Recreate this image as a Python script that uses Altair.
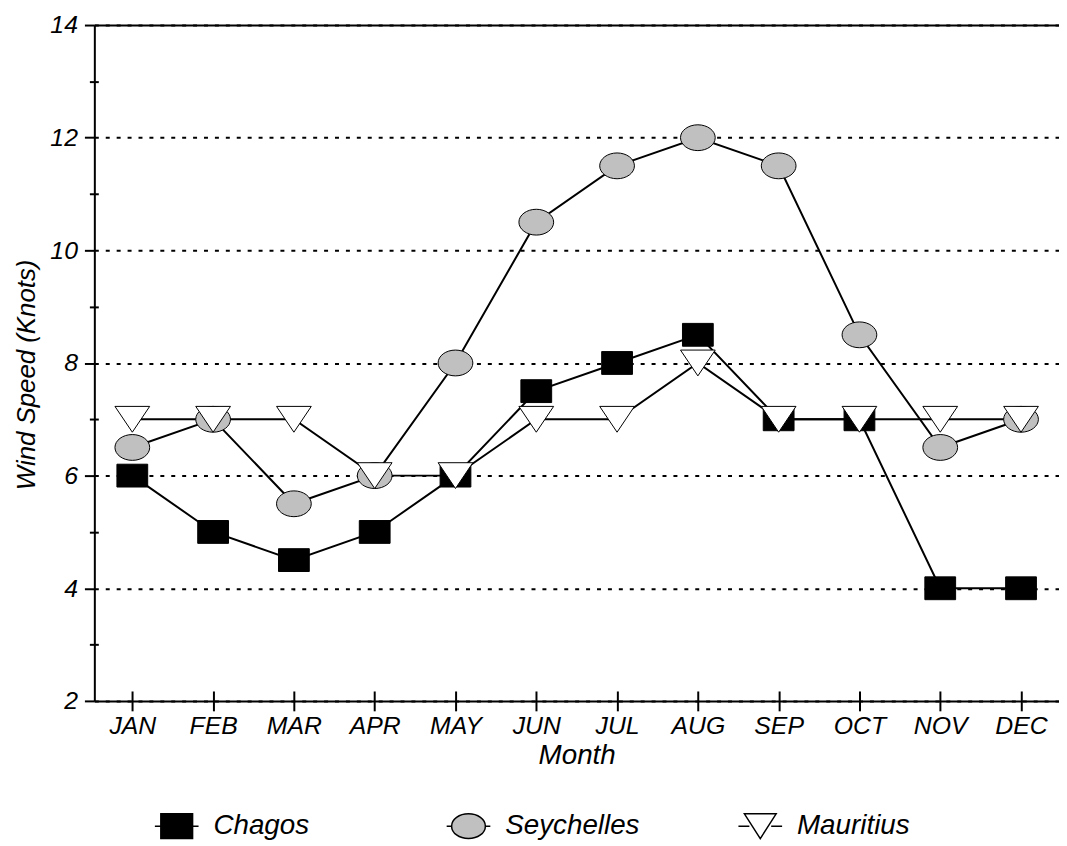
import altair as alt
import pandas as pd

months = ["JAN", "FEB", "MAR", "APR", "MAY", "JUN", "JUL", "AUG", "SEP", "OCT", "NOV", "DEC"]
series_names = ["Chagos", "Seychelles", "Mauritius"]
chagos = [6, 5, 4.5, 5, 6, 7.5, 8, 8.5, 7, 7, 4, 4]
seychelles = [6.5, 7, 5.5, 6, 8, 10.5, 11.5, 12, 11.5, 8.5, 6.5, 7]
mauritius = [7, 7, 7, 6, 6, 7, 7, 8, 7, 7, 7, 7]
y_major = [2, 4, 6, 8, 10, 12, 14]
y_minor = [3, 5, 7, 9, 11, 13]

rows = []
for name, vals in zip(series_names, [chagos, seychelles, mauritius]):
    for m, v in zip(months, vals):
        rows.append({"month": m, "speed": v, "series": name})
df = pd.DataFrame(rows)

FONT = "Liberation Sans"
fills = ["#000000", "#c0c0c0", "#ffffff"]
strokes = ["#000000", "#000000", "#000000"]

# marker shapes (plot)
shape_paths = [
    "M-0.886,-0.657H0.886V0.657H-0.886Z",
    "M-1,0A1,0.743,0,1,0,1,0A1,0.743,0,1,0,-1,0Z",
    "M-1,-0.743H1L0,0.743Z",
]
# legend shapes with line stubs
legend_paths = [
    "M-1,0H-0.727M0.727,0H1M-0.727,-0.568H0.727V0.568H-0.727Z",
    "M-1,0H-0.773M0.773,0H1M-0.773,0A0.773,0.568,0,1,0,0.773,0A0.773,0.568,0,1,0,-0.773,0Z",
    "M-1,0H-0.5M0.5,0H1M-0.727,-0.568H0.727L0,0.568Z",
]

xscale = alt.Scale(type="point", domain=months, padding=0.47)
yscale = alt.Scale(domain=[2, 14], nice=False, zero=False)

lines = alt.Chart(df).mark_line(color="black", strokeWidth=2).encode(
    x=alt.X("month:N", scale=xscale, sort=months, title="Month",
            axis=alt.Axis(orient="bottom", offset=-10, tickSize=20, tickWidth=2, tickColor="black",
                          domain=False, labelAngle=0, labelPadding=3,
                          labelFont=FONT, labelFontSize=25, labelFontStyle="italic",
                          labelFontWeight="normal", labelColor="black",
                          titleFont=FONT, titleFontSize=28, titleFontStyle="italic",
                          titleFontWeight="normal", titleColor="black", titlePadding=3)),
    y=alt.Y("speed:Q", scale=yscale, title="Wind Speed (Knots)",
            axis=alt.Axis(orient="left", values=y_major, tickSize=10, tickWidth=2, tickColor="black",
                          domain=True, domainColor="black", domainWidth=2,
                          grid=True, gridColor="black", gridWidth=2, gridDash=[4, 7],
                          labelPadding=7, labelFont=FONT, labelFontSize=25,
                          labelFontStyle="italic", labelColor="black",
                          titleFont=FONT, titleFontSize=26, titleFontStyle="italic",
                          titleFontWeight="normal", titleColor="black", titlePadding=10,
                          titleY=352)),
    detail="series:N",
)

points = alt.Chart(df).mark_point(filled=True, stroke="black", strokeWidth=1, opacity=1, size=1225).encode(
    x=alt.X("month:N", scale=xscale, sort=months, title=None,
            axis=alt.Axis(orient="bottom", domain=True, domainColor="black", domainWidth=2,
                          ticks=False, labels=False, grid=False)),
    y=alt.Y("speed:Q", scale=yscale, title=None,
            axis=alt.Axis(orient="left", values=y_minor, offset=-4, tickSize=9, tickWidth=2,
                          tickColor="black", domain=False, labels=False, grid=False)),
    shape=alt.Shape("series:N", scale=alt.Scale(domain=series_names, range=shape_paths), legend=None),
    fill=alt.Fill("series:N", scale=alt.Scale(domain=series_names, range=fills), legend=None),
)

legend_layer = alt.Chart(df).transform_filter("false").mark_point(
    filled=True, strokeWidth=1, opacity=1).encode(
    x=alt.X("month:N", scale=xscale, sort=months, title=None,
            axis=alt.Axis(orient="top", domain=True, domainColor="black", domainWidth=2,
                          ticks=False, labels=False, grid=False)),
    y=alt.Y("speed:Q", scale=yscale, axis=None),
    shape=alt.Shape("series:N", scale=alt.Scale(domain=series_names, range=legend_paths),
                    legend=alt.Legend(title=None, orient="none", legendX=60, legendY=784,
                                      direction="horizontal", gridAlign="all", columnPadding=96,
                                      symbolSize=1936, symbolStrokeColor="black", symbolStrokeWidth=1.5,
                                      labelOffset=14, labelFont=FONT, labelFontSize=28,
                                      labelFontStyle="italic", labelColor="black", labelLimit=300)),
    fill=alt.Fill("series:N", scale=alt.Scale(domain=series_names, range=fills), legend=None),
    stroke=alt.Stroke("series:N", scale=alt.Scale(domain=series_names, range=strokes), legend=None),
)

chart = alt.layer(lines, points, legend_layer).resolve_scale(
    shape="independent", fill="independent", stroke="independent"
).resolve_axis(x="independent", y="independent").properties(
    width=972, height=681,
    autosize=alt.AutoSizeParams(type="none"),
    padding={"left": 87, "top": 14, "right": 0, "bottom": 140},
).configure_view(stroke=None).configure(background="white")

chart.save("out.html", embed_options={"renderer": "svg", "actions": False})
